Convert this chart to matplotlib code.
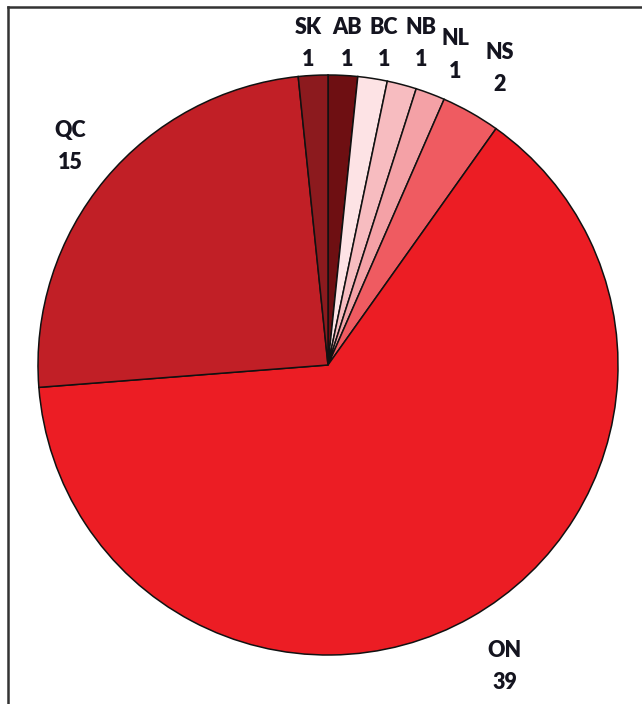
import matplotlib
matplotlib.use("Agg")
import matplotlib.pyplot as plt
from matplotlib.lines import Line2D

# Participants by province, pie order starting at 12 o'clock, clockwise
provinces = ["AB", "BC", "NB", "NL", "NS", "ON", "QC", "SK"]
counts = [1, 1, 1, 1, 2, 39, 15, 1]
colors = ["#6e0f12", "#fde3e5", "#f7bcc0", "#f4a1a6", "#ef5b61",
          "#ec1d24", "#c11f26", "#8c1a1e"]

# label anchors in units of pie radius (outside-end placement)
label_xy = {
    "AB": (0.066, 1.107), "BC": (0.193, 1.107), "NB": (0.321, 1.107),
    "NL": (0.438, 1.069), "NS": (0.593, 1.024), "ON": (0.610, -1.041),
    "QC": (-0.890, 0.755), "SK": (-0.069, 1.107),
}

fig = plt.figure(figsize=(6.42, 7.04), dpi=100)
ax = fig.add_axes([0, 0, 1, 1])

R_PX = 290.0
cx, cy = 328.0, 365.0
ax.pie(counts, colors=colors, startangle=90, counterclock=False,
       radius=1.0, wedgeprops=dict(edgecolor="#111111", linewidth=1.1))
ax.set_aspect("auto")
ax.set_xlim(-cx / R_PX, (642 - cx) / R_PX)
ax.set_ylim(-(704 - cy) / R_PX, cy / R_PX)
ax.axis("off")

for name, n in zip(provinces, counts):
    x, y = label_xy[name]
    ax.text(x, y, f"{name}\n{n}", ha="center", va="center",
            fontsize=15.5, fontweight="heavy", family="Lato",
            color="#14141f", linespacing=1.65)

# frame lines on the left and top edges
fig.add_artist(Line2D([8 / 642, 8 / 642], [0, 1 - 7 / 704],
                      transform=fig.transFigure, color="#333333", lw=1.8))
fig.add_artist(Line2D([8 / 642, 1], [1 - 7 / 704, 1 - 7 / 704],
                      transform=fig.transFigure, color="#333333", lw=1.8))

fig.savefig("out.png", dpi=100)
